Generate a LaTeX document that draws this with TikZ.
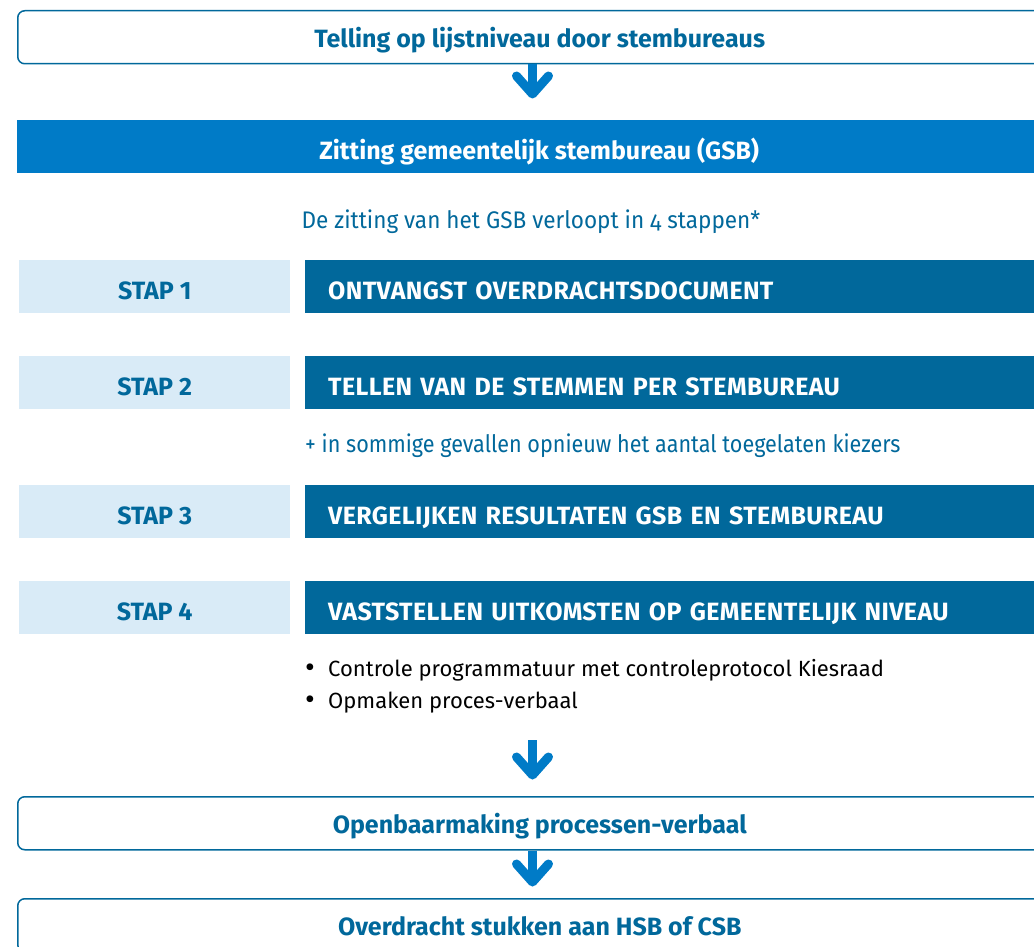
\documentclass[tikz,border=0pt]{standalone}
\usepackage{fontspec}
\usetikzlibrary{calc}
\setmainfont{Fira Sans}
\newfontfamily\roFont{Fira Sans}
\newfontfamily\roFontOs[FakeStretch=0.94,Numbers=OldStyle]{Fira Sans}
\newfontfamily\roFontNarrow[FakeStretch=0.90]{Fira Sans}
\newcommand\myTitleFont{\roFont\bfseries\fontsize{25}{28}\selectfont}
\newcommand\myCapsFont{\roFont\bfseries\fontsize{25}{28}\selectfont\addfontfeature{LetterSpace=1.5}}
\newcommand\myTextFont{\roFontOs\fontsize{24}{28}\selectfont}
\newcommand\myPlusFont{\roFontNarrow\fontsize{24}{28}\selectfont}
\newcommand\myBulletFont{\roFont\fontsize{22}{26}\selectfont}
\newcommand\myBullet{\makebox[23pt][l]{\fontsize{30}{30}\selectfont\raisebox{-1pt}{\textbullet}}}
\definecolor{hemel}{HTML}{007BC7}
\definecolor{donker}{HTML}{01689B}
\definecolor{licht}{HTML}{D9EBF7}
\begin{document}
\begin{tikzpicture}[x=1pt,y=-1pt,
  outlinebox/.style={draw=donker, line width=1.5pt, rounded corners=7pt,
    minimum width=1044pt, minimum height=53pt, inner sep=0pt,
    text height=21pt, text depth=0pt, font=\myTitleFont, text=donker},
  gsbbar/.style={fill=hemel, minimum width=1044pt, minimum height=53pt,
    inner sep=0pt, text height=25pt, text depth=0pt, text=white, font=\myTitleFont},
  staplabel/.style={fill=licht, minimum width=271pt, minimum height=53pt,
    inner sep=0pt, text height=25pt, text depth=0pt, text=donker, font=\myTitleFont},
  stapbox/.style={fill=donker, minimum height=53pt, text width=733pt,
    inner xsep=23pt, inner ysep=0pt, align=left, text height=25pt,
    text depth=0pt, text=white, font=\myCapsFont},
  subtext/.style={inner sep=0pt, text=donker, font=\myTextFont},
  plustext/.style={inner sep=0pt, text=donker, font=\myPlusFont},
  bullettext/.style={inner sep=0pt, text=black, font=\myBulletFont, align=left},
  shaft/.style={draw=hemel, line width=9pt},
  arrowhead/.style={draw=hemel, line width=9pt, line cap=round, line join=round}
]
\useasboundingbox (0,0) rectangle (1034,947);
\clip (0,0) rectangle (1034,947);

\node[outlinebox, anchor=north west] (telling) at (17,10) {Telling op lijstniveau door stembureaus};
\node[gsbbar, anchor=north west] (gsb) at (17,120) {Zitting gemeentelijk stembureau (GSB)};
\node[subtext, anchor=base] (intro) at (531,228) {De zitting van het GSB verloopt in 4 stappen*};

\node[staplabel, anchor=north west] (s1) at (19,260) {STAP 1};
\node[stapbox, anchor=north west] (b1) at (305,260) {ONTVANGST OVERDRACHTSDOCUMENT};
\node[staplabel, anchor=north west] (s2) at (19,356) {STAP 2};
\node[stapbox, anchor=north west] (b2) at (305,356) {TELLEN VAN DE STEMMEN PER STEMBUREAU};
\node[plustext, anchor=base west] (plus) at (305,452) {+ in sommige gevallen opnieuw het aantal toegelaten kiezers};
\node[staplabel, anchor=north west] (s3) at (19,485) {STAP 3};
\node[stapbox, anchor=north west] (b3) at (305,485) {VERGELIJKEN RESULTATEN GSB EN STEMBUREAU};
\node[staplabel, anchor=north west] (s4) at (19,581) {STAP 4};
\node[stapbox, anchor=north west] (b4) at (305,581) {VASTSTELLEN UITKOMSTEN OP GEMEENTELIJK NIVEAU};

\node[bullettext, anchor=base west] (bul1) at (305,676) {\myBullet Controle programmatuur met controleprotocol Kiesraad};
\node[bullettext, anchor=base west] (bul2) at (305,708) {\myBullet Opmaken proces-verbaal};

\node[outlinebox, anchor=north west] (open) at (17,796) {Openbaarmaking processen-verbaal};
\node[outlinebox, anchor=north west] (over) at (17,898) {Overdracht stukken aan HSB of CSB};

% arrow 1
\coordinate (t1) at (532.5,94);
\draw[shaft] (t1 |- telling.south) -- (t1);
\draw[arrowhead] ($(t1)+(-16,-18)$) -- (t1) -- ($(t1)+(16,-18)$);
% arrow 2
\coordinate (a2) at (532.5,740);
\coordinate (t2) at (532.5,775);
\draw[shaft] (a2) -- (t2);
\draw[arrowhead] ($(t2)+(-16,-18)$) -- (t2) -- ($(t2)+(16,-18)$);
% arrow 3
\coordinate (t3) at (532.5,882);
\draw[shaft] (t3 |- open.south) -- (t3);
\draw[arrowhead] ($(t3)+(-16,-18)$) -- (t3) -- ($(t3)+(16,-18)$);
\end{tikzpicture}
\end{document}
